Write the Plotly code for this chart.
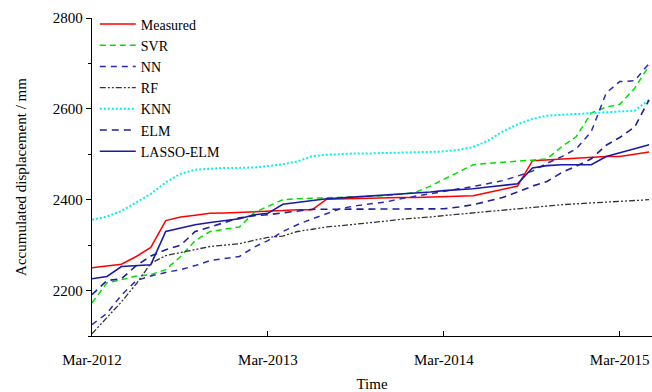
import plotly.graph_objects as go
import pandas as pd

# Monthly dates, Mar-2012 .. May-2015
dates = pd.date_range("2012-03-01", periods=39, freq="MS")

measured = [2250, 2254, 2258, 2275, 2295, 2354, 2362, 2366, 2370, 2371, 2372, 2374, 2375, 2376,
            2378, 2378, 2401, 2402, 2403, 2404, 2404, 2405, 2405, 2406, 2407, 2408, 2409, 2416,
            2423, 2430, 2486, 2488, 2490, 2492, 2494, 2495, 2495, 2500, 2505]
svr = [2173, 2217, 2224, 2232, 2235, 2246, 2275, 2310, 2330, 2335, 2340, 2372, 2385, 2400,
       2402, 2403, 2404, 2405, 2406, 2407, 2409, 2412, 2416, 2430, 2445, 2460, 2477, 2480,
       2483, 2485, 2487, 2490, 2517, 2539, 2591, 2604, 2610, 2645, 2695]
nn = [2125, 2150, 2190, 2222, 2232, 2240, 2246, 2255, 2266, 2270, 2275, 2296, 2310, 2330,
      2345, 2358, 2370, 2381, 2387, 2391, 2395, 2402, 2408, 2414, 2419, 2424, 2429, 2435,
      2442, 2452, 2463, 2480, 2495, 2512, 2550, 2635, 2660, 2662, 2700]
rf = [2105, 2140, 2175, 2215, 2260, 2277, 2284, 2290, 2297, 2300, 2303, 2311, 2317, 2320,
      2330, 2335, 2340, 2343, 2346, 2349, 2353, 2357, 2359, 2362, 2365, 2368, 2371, 2374,
      2377, 2381, 2383, 2386, 2389, 2391, 2393, 2394, 2396, 2398, 2400]
knn = [2356, 2363, 2375, 2395, 2413, 2438, 2457, 2466, 2468, 2470, 2470, 2471, 2474, 2478,
       2484, 2496, 2499, 2501, 2502, 2502, 2503, 2504, 2504, 2505, 2506, 2510, 2516, 2530,
       2550, 2566, 2578, 2585, 2587, 2589, 2591, 2593, 2594, 2596, 2620]
elm = [2191, 2222, 2226, 2255, 2276, 2290, 2300, 2330, 2340, 2350, 2360, 2365, 2367, 2371,
       2375, 2379, 2379, 2379, 2379, 2379, 2379, 2379, 2379, 2379, 2380, 2384, 2389, 2397,
       2405, 2417, 2430, 2440, 2460, 2474, 2490, 2520, 2537, 2560, 2620]
lasso_elm = [2226, 2231, 2253, 2255, 2257, 2330, 2338, 2345, 2350, 2354, 2358, 2367, 2370, 2390,
             2394, 2397, 2402, 2404, 2406, 2408, 2410, 2412, 2414, 2417, 2420, 2422, 2424, 2428,
             2431, 2435, 2470, 2475, 2477, 2477, 2477, 2495, 2503, 2512, 2521]

tick_dates = ["2012-03-01", "2013-03-01", "2014-03-01", "2015-03-01"]
tick_labels = ["Mar-2012", "Mar-2013", "Mar-2014", "Mar-2015"]

FONT = "Liberation Serif"

series = [
    ("Measured", measured, dict(color="#ff0000", width=1.5, dash="solid")),
    ("SVR", svr, dict(color="#00e000", width=1.5, dash="6px,4px")),
    ("NN", nn, dict(color="#2a2ab8", width=1.5, dash="6px,5px")),
    ("RF", rf, dict(color="#333333", width=1.3, dash="6px,2px,2px,2px,2px,2px")),
    ("KNN", knn, dict(color="#00f0f0", width=2, dash="2px,2px")),
    ("ELM", elm, dict(color="#1e1e9a", width=1.6, dash="7px,5px")),
    ("LASSO-ELM", lasso_elm, dict(color="#1a1aa8", width=1.6, dash="solid")),
]

fig = go.Figure()
for name, vals, line in series:
    fig.add_trace(go.Scatter(x=dates, y=vals, mode="lines", name=name, line=line))

fig.update_layout(
    width=652, height=392,
    margin=dict(l=92, r=0, t=18, b=56),
    paper_bgcolor="white", plot_bgcolor="white",
    font=dict(family=FONT, size=15, color="black"),
    showlegend=True,
    legend=dict(x=0.005, y=1.03, xanchor="left", yanchor="top",
                itemwidth=36,
                bgcolor="rgba(0,0,0,0)", font=dict(family=FONT, size=14, color="black"),
                tracegroupgap=0),
)
fig.update_xaxes(
    type="date",
    range=["2012-03-01", "2015-05-07"],
    tickvals=tick_dates, ticktext=tick_labels,
    ticks="inside", ticklen=5, tickcolor="black",
    ticklabelstandoff=10,
    showline=True, linecolor="black", linewidth=1.3,
    showgrid=False, zeroline=False,
    title=dict(text="Time", standoff=13, font=dict(family=FONT, size=15)),
    tickfont=dict(family=FONT, size=15),
)
fig.update_yaxes(
    range=[2100, 2800], dtick=200, tick0=2200,
    ticks="outside", ticklen=5, tickcolor="black",
    minor=dict(dtick=100, ticks="outside", ticklen=3, tickcolor="black"),
    showline=True, linecolor="black", linewidth=1.3,
    showgrid=False, zeroline=False,
    title=dict(text="Accumulated displacement / mm", standoff=22, font=dict(family=FONT, size=15)),
    tickfont=dict(family=FONT, size=15),
)

fig.write_html("out.html",
               config={"displayModeBar": False},
               post_script="document.body.style.margin='0';document.body.style.overflow='hidden';")
